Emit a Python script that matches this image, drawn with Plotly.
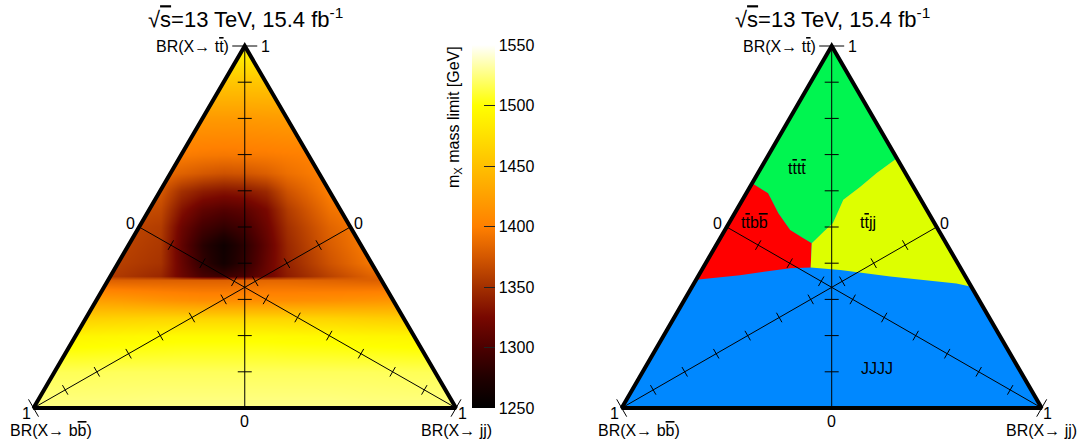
import numpy as np
import plotly.graph_objects as go

# ---------------- data ----------------
axis_tick_values = [0.1, 0.2, 0.3, 0.4, 0.5, 0.6, 0.7, 0.8, 0.9]
cbar_ticks = [1250, 1300, 1350, 1400, 1450, 1500, 1550]

# mass limit table (GeV): rows = BR(X->tt), columns = horizontal position inside triangle
grid_x = [0.0, 0.1, 0.2, 0.3, 0.35, 0.4, 0.45, 0.5, 0.55, 0.6, 0.7, 0.8, 0.9, 1.0]
grid_tt = [0.0, 0.1, 0.2, 0.25, 0.3, 0.355, 0.365, 0.4, 0.45, 0.5, 0.55, 0.6, 0.65, 0.7, 0.8, 0.9, 1.0]
mass_limit = [
    [1526, 1526, 1526, 1527, 1527, 1527, 1527, 1527, 1527, 1527, 1527, 1526, 1526, 1526],
    [1517, 1517, 1518, 1518, 1518, 1518, 1518, 1518, 1518, 1518, 1518, 1518, 1517, 1517],
    [1492, 1492, 1494, 1496, 1497, 1497, 1497, 1497, 1497, 1496, 1495, 1493, 1492, 1492],
    [1462, 1462, 1464, 1466, 1466, 1466, 1466, 1466, 1466, 1466, 1465, 1462, 1460, 1460],
    [1425, 1425, 1422, 1415, 1412, 1410, 1410, 1410, 1410, 1410, 1412, 1415, 1418, 1418],
    [1382, 1382, 1380, 1380, 1380, 1380, 1380, 1382, 1384, 1384, 1382, 1380, 1380, 1380],
    [1358, 1358, 1356, 1345, 1318, 1298, 1290, 1298, 1318, 1338, 1362, 1382, 1388, 1388],
    [1360, 1360, 1360, 1352, 1315, 1285, 1265, 1285, 1315, 1342, 1372, 1395, 1400, 1400],
    [1363, 1363, 1363, 1355, 1312, 1280, 1262, 1282, 1312, 1345, 1378, 1400, 1405, 1405],
    [1366, 1366, 1366, 1358, 1318, 1295, 1285, 1295, 1318, 1350, 1383, 1402, 1405, 1405],
    [1372, 1372, 1372, 1366, 1332, 1312, 1305, 1310, 1326, 1358, 1392, 1405, 1405, 1405],
    [1380, 1380, 1380, 1376, 1350, 1338, 1333, 1336, 1346, 1372, 1400, 1405, 1405, 1405],
    [1390, 1390, 1390, 1388, 1382, 1376, 1372, 1374, 1380, 1390, 1402, 1405, 1405, 1405],
    [1400, 1400, 1400, 1400, 1398, 1396, 1395, 1396, 1397, 1399, 1402, 1404, 1404, 1404],
    [1422, 1422, 1422, 1422, 1421, 1420, 1420, 1420, 1421, 1422, 1423, 1424, 1424, 1424],
    [1455, 1455, 1455, 1455, 1455, 1455, 1455, 1455, 1455, 1455, 1455, 1455, 1455, 1455],
    [1495, 1495, 1495, 1495, 1495, 1495, 1495, 1495, 1495, 1495, 1495, 1495, 1495, 1495],
]

# dominant-signature region boundaries, given as (BR(X->tt), BR(X->jj))
jjjj_left_tt = [0.354, 0.367, 0.386, 0.388]
jjjj_left_jj = [0.0, 0.098, 0.208, 0.256]
jjjj_right_tt = [0.388, 0.381, 0.363, 0.344, 0.335]
jjjj_right_jj = [0.256, 0.33, 0.458, 0.625, 0.665]
ttbb_tttt_tt = [0.621, 0.593, 0.538, 0.492, 0.469, 0.455]
ttbb_tttt_jj = [0.0, 0.052, 0.104, 0.155, 0.198, 0.225]
ttjj_tttt_tt = [0.455, 0.487, 0.511, 0.575, 0.611, 0.649, 0.69]
ttjj_tttt_jj = [0.225, 0.237, 0.2475, 0.24, 0.2625, 0.2825, 0.31]

OV = "<span style='text-decoration:overline'>{}</span>"
region_names = ["JJJJ", "t" + OV.format("t") + "t" + OV.format("t"),
                "t" + OV.format("t") + "b" + OV.format("b"), "t" + OV.format("t") + "jj"]
region_colors = ["#0088ff", "#00f550", "#ff0000", "#ddff00"]

# ---------------- geometry helpers ----------------
H = np.sqrt(3) / 2
FONT = "Liberation Sans, Arial, sans-serif"


def cart(tt, jj):
    tt = np.asarray(tt, float)
    jj = np.asarray(jj, float)
    return jj + tt / 2, tt * H


fig = go.Figure()

# pixel scale of each subplot (px per data unit)
SCALE = {"x": (422.5, 418.0), "x2": (420.0, 418.0)}


def seg(xs, ys, cx, cy, dxp, dyp, sx, sy):
    xs += [cx - dxp / sx, cx + dxp / sx, None]
    ys += [cy - dyp / sy, cy + dyp / sy, None]


def draw_frame(xa, ya):
    sx, sy = SCALE[xa]
    lx, ly = [], []
    lx += [0.5, 0.5, None]; ly += [H, 0, None]
    bx, by = cart(0.5, 0.5)
    lx += [0, float(bx), None]; ly += [0, float(by), None]
    cx_, cy_ = cart(0.5, 0.0)
    lx += [1, float(cx_), None]; ly += [0, float(cy_), None]
    fig.add_trace(go.Scatter(x=lx, y=ly, mode="lines", line=dict(color="black", width=1),
                             xaxis=xa, yaxis=ya, hoverinfo="skip"))
    tx, ty = [], []
    for v in axis_tick_values:
        seg(tx, ty, 0.5, v * H, 7, 0, sx, sy)
        px, py = cart((1 - v) / 2, (1 - v) / 2)
        seg(tx, ty, float(px), float(py), -0.5 * 5.5, 0.866 * 5.5, sx, sy)
        px, py = cart((1 - v) / 2, v)
        seg(tx, ty, float(px), float(py), 0.5 * 5.5, 0.866 * 5.5, sx, sy)
    seg(tx, ty, 0.5, H, 12.5, 0, sx, sy)
    seg(tx, ty, 0.0, 0.0, -0.5 * 10, 0.866 * 10, sx, sy)
    seg(tx, ty, 1.0, 0.0, 0.5 * 10, 0.866 * 10, sx, sy)
    fig.add_trace(go.Scatter(x=tx, y=ty, mode="lines", line=dict(color="black", width=1),
                             xaxis=xa, yaxis=ya, hoverinfo="skip"))
    fig.add_trace(go.Scatter(x=[0, 1, 0.5, 0, 1], y=[0, 0, H, 0, 0], mode="lines",
                             line=dict(color="black", width=4),
                             xaxis=xa, yaxis=ya, hoverinfo="skip"))


def labels(xa, ya):
    common = dict(xref=xa, yref=ya, showarrow=False, font=dict(family=FONT, size=16, color="black"))
    ann = [
        dict(x=0.5, y=H, text="1", xanchor="left", yanchor="middle", xshift=14, **common),
        dict(x=0.5, y=H, text="BR(X\u2192 t" + OV.format("t") + ")", xanchor="right", yanchor="middle",
             xshift=-14, **common),
        dict(x=0.25, y=H / 2, text="0", xanchor="center", yanchor="middle", xshift=-9, yshift=4, **common),
        dict(x=0.75, y=H / 2, text="0", xanchor="center", yanchor="middle", xshift=8, yshift=4, **common),
        dict(x=0.5, y=0, text="0", xanchor="center", yanchor="middle", yshift=-13, **common),
        dict(x=0, y=0, text="1", xanchor="center", yanchor="middle", xshift=-7, yshift=-5, **common),
        dict(x=1, y=0, text="1", xanchor="center", yanchor="middle", xshift=6, yshift=-5, **common),
        dict(x=0, y=0, text="BR(X\u2192 b" + OV.format("b") + ")", xanchor="center", yanchor="middle",
             xshift=17, yshift=-22, **common),
        dict(x=1, y=0, text="BR(X\u2192 jj)", xanchor="center", yanchor="middle", xshift=0, yshift=-22,
             **common),
        dict(x=0.5, y=(446 - 18) / 446, xref=xa, yref="paper",
             text="\u221a" + OV.format("s") + "=13 TeV, 15.4 fb<sup>-1</sup>",
             showarrow=False, xanchor="center", yanchor="middle", xshift=1,
             font=dict(family=FONT, size=22, color="black")),
    ]
    for a in ann:
        fig.add_annotation(**a)


# ---------------- left: heatmap ----------------
colorscale = [
    [0.0, "#000000"], [0.083, "#200000"], [0.167, "#4c0000"], [0.25, "#780800"],
    [0.333, "#a33000"], [0.417, "#d45800"], [0.5, "#ff8000"], [0.583, "#ffa000"],
    [0.667, "#ffc000"], [0.75, "#ffe000"], [0.833, "#ffff00"], [0.917, "#ffff80"],
    [1.0, "#ffffff"],
]
fig.add_trace(go.Heatmap(
    x=grid_x, y=[t * H for t in grid_tt], z=mass_limit, zsmooth="best",
    colorscale=colorscale, zmin=1250, zmax=1550, xaxis="x", yaxis="y",
    hoverinfo="skip",
    colorbar=dict(
        x=472 / 1089, xanchor="left", xpad=0, ypad=0,
        y=1 - 226.5 / 446, yanchor="middle",
        thicknessmode="pixels", thickness=23, lenmode="pixels", len=363,
        tickvals=cbar_ticks, ticks="inside", ticklen=11, tickcolor="#222", tickwidth=1.2,
        outlinewidth=0, tickfont=dict(family=FONT, size=16, color="black"),
    ),
))
fig.add_trace(go.Scatter(x=[-0.3, 0.6, 0.6, 0, 0.5, 0.6, 0.6, -0.3],
                         y=[-0.3, -0.3, 0, 0, H, H, 1.3, 1.3], fill="toself",
                         fillcolor="white", line=dict(width=0), mode="lines",
                         xaxis="x", yaxis="y", hoverinfo="skip"))
fig.add_trace(go.Scatter(x=[1.3, 0.4, 0.4, 1, 0.5, 0.4, 0.4, 1.3],
                         y=[-0.3, -0.3, 0, 0, H, H, 1.3, 1.3], fill="toself",
                         fillcolor="white", line=dict(width=0), mode="lines",
                         xaxis="x", yaxis="y", hoverinfo="skip"))
draw_frame("x", "y")
labels("x", "y")

fig.add_annotation(x=455 / 1089, y=(446 - 44) / 446, xref="paper", yref="paper",
                   text="m<sub>X</sub> mass limit [GeV]", textangle=-90, showarrow=False,
                   xanchor="center", yanchor="top", font=dict(family=FONT, size=16, color="black"))


# ---------------- right: regions ----------------
def poly(tt_list, jj_list, color):
    x, y = cart(tt_list, jj_list)
    fig.add_trace(go.Scatter(x=list(x), y=list(y), fill="toself", fillcolor=color,
                             line=dict(width=0), mode="lines", xaxis="x2", yaxis="y2",
                             hoverinfo="skip"))


poly([0, 0, 1], [0, 1, 0], region_colors[0])
poly([1.0] + ttjj_tttt_tt[::-1] + ttbb_tttt_tt[::-1], [0.0] + ttjj_tttt_jj[::-1] + ttbb_tttt_jj[::-1],
     region_colors[1])
poly(ttbb_tttt_tt + jjjj_left_tt[::-1], ttbb_tttt_jj + jjjj_left_jj[::-1], region_colors[2])
poly(jjjj_right_tt[::-1] + ttjj_tttt_tt, jjjj_right_jj[::-1] + ttjj_tttt_jj, region_colors[3])

draw_frame("x2", "y2")
labels("x2", "y2")

rfont = dict(family=FONT, size=16, color="black")
for name, (xp, yp) in zip(region_names, [(0.607, 0.095), (0.417, 0.573), (0.317, 0.443), (0.587, 0.443)]):
    fig.add_annotation(x=xp, y=yp, xref="x2", yref="y2", text=name, showarrow=False,
                       xanchor="center", yanchor="middle", font=rfont)

ax = dict(visible=False, fixedrange=True)
fig.update_layout(
    width=1089, height=446, margin=dict(l=0, r=0, t=0, b=0),
    paper_bgcolor="white", plot_bgcolor="white", showlegend=False,
    xaxis=dict(domain=[0, 0.5], range=[-0.07929, 1.20947], **ax),
    yaxis=dict(domain=[0, 1], range=[-0.09091, 0.97608], **ax),
    xaxis2=dict(domain=[0.5, 1], range=[-0.18381, 1.11262], anchor="y2", **ax),
    yaxis2=dict(domain=[0, 1], range=[-0.09091, 0.97608], anchor="x2", **ax),
)
fig.write_html("out.html")
